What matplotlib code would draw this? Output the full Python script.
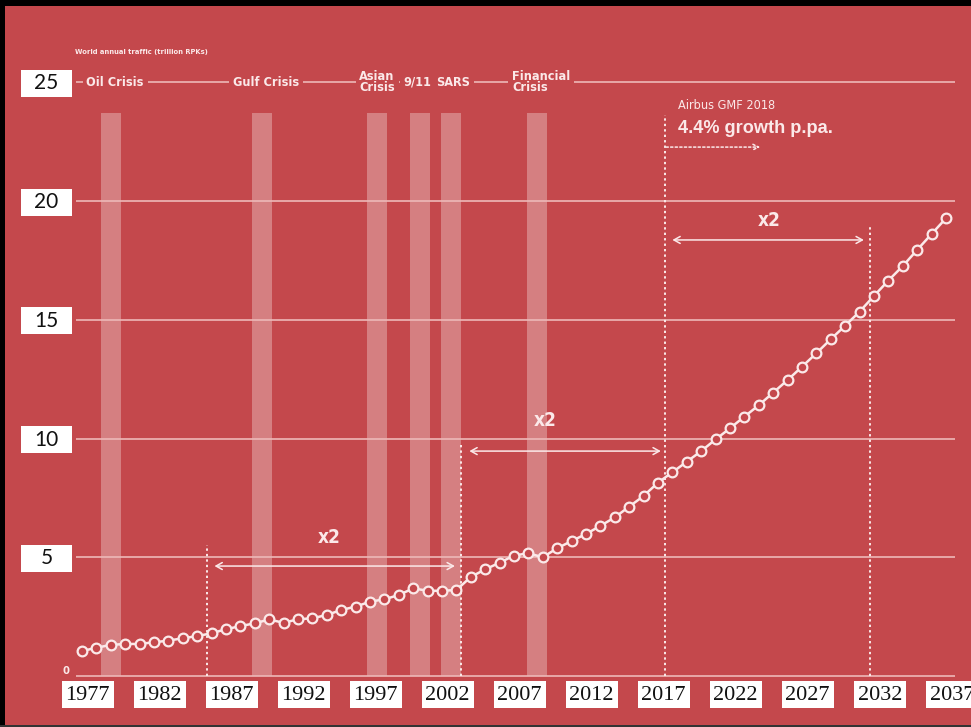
import matplotlib
matplotlib.use("Agg")
import matplotlib.pyplot as plt
from matplotlib.patches import Rectangle
from matplotlib import font_manager as fm

# World annual air traffic, trillion RPKs (history + Airbus GMF 2018 forecast)
years = list(range(1977, 2038))
traffic = [
    1.05, 1.19, 1.31, 1.35, 1.35, 1.42, 1.49, 1.59, 1.68, 1.80,
    1.97, 2.10, 2.22, 2.38, 2.24, 2.39, 2.43, 2.57, 2.78, 2.92,
    3.13, 3.23, 3.41, 3.69, 3.59, 3.59, 3.62, 4.17, 4.49, 4.77,
    5.07, 5.17, 5.00, 5.38, 5.68, 5.98, 6.32, 6.68, 7.13, 7.58,
    8.14, 8.58, 9.02, 9.47, 9.96, 10.43, 10.92, 11.40, 11.93, 12.46,
    13.02, 13.59, 14.18, 14.75, 15.34, 16.00, 16.65, 17.26, 17.94, 18.61,
    19.27,
]
y_ticks = [5, 10, 15, 20, 25]
x_ticks = list(range(1977, 2038, 5))

crisis_names = ["Oil Crisis", "Gulf Crisis", "Asian\nCrisis", "9/11", "SARS", "Financial\nCrisis"]
crisis_years = [1979.0, 1989.5, 1997.5, 2000.5, 2002.6, 2008.6]
crisis_label_x = [1979.3, 1989.8, 1997.5, 2000.3, 2002.8, 2008.9]

# traffic doubling periods marked with dotted verticals
doubling_years = [1985.7, 2003.3, 2017.5, 2031.7]
doubling_tops = [5.5, 9.8, 23.6, 19.0]


def narrow_fonts():
    """Pick installed condensed faces for regular and bold text."""
    cands = []
    for f in fm.fontManager.ttflist:
        n = f.name.lower()
        st = str(f.stretch)
        if "narrow" in n or "condensed" in n or st in (
                "condensed", "semi-condensed", "extra-condensed"):
            try:
                w = int(f.weight)
            except (TypeError, ValueError):
                w = {"bold": 700, "normal": 400, "regular": 400}.get(str(f.weight), 400)
            if f.style == "normal":
                cands.append((f.name, f.stretch, w))
    if not cands:
        return ("Roboto", "normal", 400), ("Roboto", "normal", 700)
    bold = max(cands, key=lambda c: (c[2] >= 600, -abs(c[2] - 700)))
    reg = min(cands, key=lambda c: abs(c[2] - 400))
    return reg, bold


REG, BOLD = narrow_fonts()

BG = "#c4484c"
INK = "#fbe9e9"
GRID = "#edb8b8"

W, H = 971, 727
fig = plt.figure(figsize=(W / 100, H / 100), dpi=100)
fig.patch.set_facecolor(BG)
ax = fig.add_axes([0, 0, 1, 1])
ax.set_facecolor(BG)
ax.set_xlim(1971.306, 2038.74)
ax.set_ylim(-2.147, 28.463)
ax.axis("off")
renderer = fig.canvas.get_renderer()

x_left, x_right = 1976.55, 2037.6


def label(x, y, s, size, bold=False, **kw):
    face = BOLD if bold else REG
    return ax.text(x, y, s, fontsize=size, color=INK,
                   family=[face[0], "DejaVu Sans"], stretch=face[1],
                   fontweight=face[2], **kw)


def fit(texts, ref, width_px, max_size=None):
    """Scale the font of texts so that `ref` spans width_px pixels."""
    w = ref.get_window_extent(renderer).width
    size = ref.get_fontsize() * width_px / w
    if max_size:
        size = min(size, max_size)
    for t in texts:
        t.set_fontsize(size)


# horizontal guides
for v in [0] + y_ticks:
    ax.hlines(v, x_left, x_right, color=GRID, lw=1.2, zorder=2)

# crisis periods
ax.bar(crisis_years, 23.7, width=1.39, bottom=0, color="white", alpha=0.3,
       linewidth=0, zorder=1)
crisis_texts = [
    label(x, 25.0, name, 10, bold=True, ha="center", va="center",
          linespacing=0.85, multialignment="left",
          bbox=dict(facecolor=BG, edgecolor="none", pad=3.0), zorder=3)
    for name, x in zip(crisis_names, crisis_label_x)
]
fit(crisis_texts, crisis_texts[0], 56, max_size=11.5)

t = label(1976.51, 26.27, "World annual traffic (trillion RPKs)", 7, bold=True,
          ha="left", va="center")
fit([t], t, 132)

# doubling markers
for x, top in zip(doubling_years, doubling_tops):
    ax.vlines(x, 0, top, color=INK, lw=1.4, linestyles=(0, (1.2, 1.6)), zorder=3)

spans = [(1986.2, 2002.9, 4.63), (2003.9, 2017.2, 9.47), (2018.0, 2031.3, 18.36)]
x2_pos = [(1994.2, 5.85), (2009.2, 10.74), (2024.7, 19.16)]
x2_texts = []
for (x0, x1, yv), (tx, ty) in zip(spans, x2_pos):
    ax.annotate("", xy=(x1, yv), xytext=(x0, yv),
                arrowprops=dict(arrowstyle="<->,head_length=0.45,head_width=0.25",
                                color=INK, lw=1.1, shrinkA=0, shrinkB=0), zorder=3)
    x2_texts.append(label(tx, ty, "x2", 14, bold=True, ha="center", va="center"))
fit(x2_texts, x2_texts[0], 23, max_size=16)

# forecast annotation
t = label(2018.39, 24.0, "Airbus GMF 2018", 10.5, ha="left", va="center")
fit([t], t, 98, max_size=12)
t = ax.text(2018.39, 23.07, "4.4% growth p.pa.", ha="left", va="center",
            fontsize=13.5, fontweight="bold", color=INK,
            family=["Liberation Sans", "DejaVu Sans"])
fit([t], t, 154)
ax.annotate("", xy=(2024.1, 22.27), xytext=(2017.56, 22.27),
            arrowprops=dict(arrowstyle="->,head_length=0.4,head_width=0.2",
                            color=INK, lw=1.1, linestyle=(0, (1.5, 1.5)),
                            shrinkA=0, shrinkB=0))

# traffic series
ax.plot(years, traffic, color=INK, lw=1.8, marker="o", ms=7.0, mfc=BG,
        mec=INK, mew=1.6, zorder=5)

# axis labels in white boxes
px_x = 1 / 14.4
px_y = 1 / 23.75
for v in y_ticks:
    yc = v - 0.05
    ax.add_patch(Rectangle((1972.76, yc - 13.5 * px_y), 51 * px_x, 27 * px_y,
                           facecolor="white", edgecolor="none", zorder=6))
    ax.text(1974.53, yc, str(v), ha="center", va="center", fontsize=15,
            color="#111111", family=["Lato", "DejaVu Sans"], zorder=7)
label(1975.89, 0.2, "0", 8, bold=True, ha="center", va="center")

for yr in x_ticks:
    xc = yr + 0.4
    ax.add_patch(Rectangle((xc - 26 * px_x, -0.78 - 13.5 * px_y), 52 * px_x,
                           27 * px_y, facecolor="white", edgecolor="none",
                           zorder=6, clip_on=False))
    ax.text(xc, -0.80, str(yr), ha="center", va="center", fontsize=16,
            color="#111111", family=["Liberation Serif", "DejaVu Serif"], zorder=7)

# frame
fig.add_artist(Rectangle((0, 0), 5 / W, 1, transform=fig.transFigure,
                         facecolor="black", edgecolor="none"))
fig.add_artist(Rectangle((0, 1 - 6 / H), 1, 6 / H, transform=fig.transFigure,
                         facecolor="black", edgecolor="none"))
fig.add_artist(Rectangle((0, 0), 1, 2 / H, transform=fig.transFigure,
                         facecolor="#333333", edgecolor="none"))

fig.savefig("out.png", dpi=100, facecolor=BG)
